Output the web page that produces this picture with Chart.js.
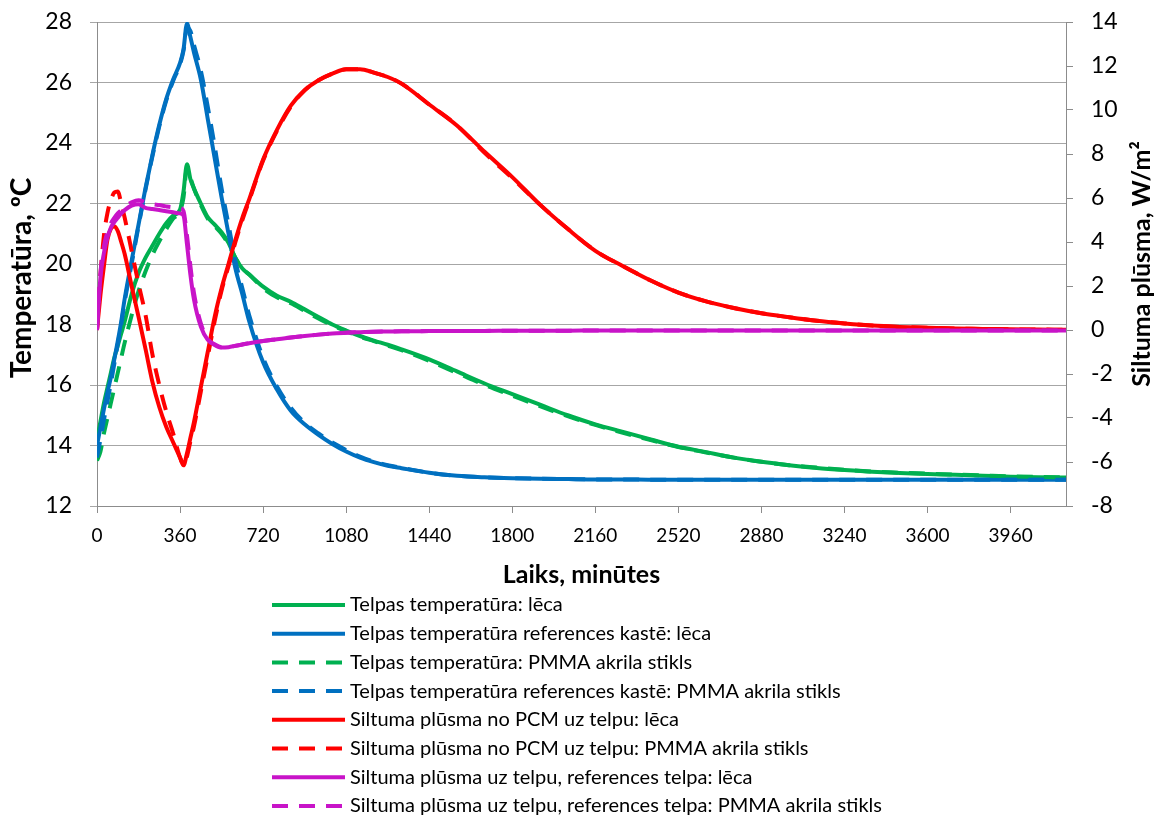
<!DOCTYPE html>
<html>
<head>
<meta charset="utf-8">
<title>Telpas temperatūra un siltuma plūsma</title>
<script src="https://cdn.jsdelivr.net/npm/chart.js@4.4.1/dist/chart.umd.min.js"></script>
<style>
  html, body { margin: 0; padding: 0; background: #fff; }
  #wrap { width: 1154px; height: 816px; position: relative; }
</style>
</head>
<body>
<div id="wrap"><canvas id="chart"></canvas></div>
<script>
// time, minutes
const minutes = [0, 15, 30, 45, 60, 75, 90, 105, 120, 150, 180, 210, 240, 270, 300, 330, 360,
  375, 390, 405, 420, 450, 480, 510, 540, 570, 600, 630, 660, 720, 780, 840, 900, 960, 1020,
  1080, 1140, 1200, 1260, 1320, 1440, 1560, 1680, 1800, 1920, 2040, 2160, 2280, 2400, 2520,
  2640, 2760, 2880, 3000, 3120, 3240, 3360, 3480, 3600, 3720, 3840, 3960, 4080, 4200];

// room temperature, degC (left axis)
const tempLeca = [14.2, 14.8, 15.4, 15.9, 16.4, 16.9, 17.3, 17.7, 18.1, 19.0, 19.7, 20.2, 20.6, 21.0,
  21.35, 21.6, 21.8, 22.4, 23.3, 22.8, 22.5, 22.0, 21.55, 21.3, 21.05, 20.7, 20.2, 19.85, 19.65,
  19.25, 18.95, 18.75, 18.5, 18.25, 18.0, 17.8, 17.62, 17.47, 17.33, 17.18, 16.85, 16.45, 16.05,
  15.7, 15.35, 15.0, 14.7, 14.45, 14.2, 13.96, 13.78, 13.6, 13.46, 13.35, 13.26, 13.19, 13.13,
  13.09, 13.06, 13.03, 13.0, 12.97, 12.95, 12.94];
const tempRefLeca = [14.0, 14.6, 15.2, 15.75, 16.25, 16.85, 17.45, 18.1, 18.85, 20.1, 21.3, 22.5, 23.6,
  24.6, 25.45, 26.1, 26.65, 27.1, 27.95, 27.5, 27.0, 26.1, 24.8, 23.5, 22.2, 21.0, 19.85, 19.0, 18.1,
  16.75, 15.85, 15.15, 14.7, 14.35, 14.05, 13.8, 13.6, 13.45, 13.33, 13.25, 13.1, 13.0, 12.95, 12.92,
  12.9, 12.89, 12.88, 12.88, 12.87, 12.87, 12.87, 12.87, 12.87, 12.87, 12.87, 12.87, 12.87, 12.87,
  12.87, 12.87, 12.87, 12.87, 12.87, 12.87];
const tempPmma = [13.5, 13.8, 14.4, 14.9, 15.4, 15.9, 16.4, 16.9, 17.4, 18.3, 19.1, 19.75, 20.3, 20.75,
  21.15, 21.5, 21.75, 22.2, 23.2, 22.85, 22.5, 21.95, 21.5, 21.25, 21.0, 20.65, 20.2, 19.85, 19.65,
  19.2, 18.9, 18.7, 18.45, 18.2, 17.97, 17.78, 17.6, 17.45, 17.3, 17.15, 16.8, 16.4, 16.0, 15.65,
  15.3, 14.97, 14.68, 14.42, 14.18, 13.95, 13.77, 13.6, 13.46, 13.35, 13.27, 13.2, 13.14, 13.1,
  13.07, 13.04, 13.01, 12.98, 12.96, 12.95];
const tempRefPmma = [13.6, 14.2, 14.85, 15.45, 16.05, 16.7, 17.35, 18.0, 18.75, 20.0, 21.25, 22.45,
  23.55, 24.55, 25.4, 26.05, 26.6, 27.05, 27.8, 27.7, 27.25, 26.4, 25.2, 23.9, 22.5, 21.3, 20.1, 19.2,
  18.3, 16.9, 15.95, 15.25, 14.75, 14.4, 14.1, 13.85, 13.63, 13.47, 13.35, 13.26, 13.1, 13.0, 12.95,
  12.92, 12.9, 12.89, 12.88, 12.88, 12.87, 12.87, 12.87, 12.87, 12.87, 12.87, 12.87, 12.87, 12.87,
  12.87, 12.87, 12.87, 12.87, 12.87, 12.87, 12.87];

// heat flow, W/m2 (right axis)
const flowLeca = [0, 1.6, 2.9, 4.1, 4.6, 4.72, 4.5, 4.0, 3.45, 2.0, 0.6, -0.85, -2.35, -3.5, -4.4, -5.1,
  -5.8, -6.15, -5.6, -4.9, -4.2, -2.6, -1.0, 0.6, 1.9, 3.0, 4.1, 5.1, 5.95, 7.75, 9.1, 10.2, 10.9,
  11.35, 11.65, 11.85, 11.85, 11.7, 11.5, 11.2, 10.25, 9.3, 8.1, 6.95, 5.7, 4.6, 3.6, 2.9, 2.25, 1.7,
  1.3, 1.0, 0.76, 0.58, 0.42, 0.3, 0.2, 0.14, 0.1, 0.07, 0.05, 0.03, 0.02, 0.01];
const flowPmma = [0, 2.5, 4.3, 5.3, 5.9, 6.25, 6.3, 5.75, 5.1, 3.6, 2.1, 0.7, -1.1, -2.5, -3.7, -4.7,
  -5.8, -6.1, -5.75, -5.05, -4.4, -2.8, -1.2, 0.4, 1.8, 2.9, 4.0, 5.0, 5.9, 7.7, 9.05, 10.15, 10.9,
  11.35, 11.65, 11.85, 11.85, 11.7, 11.5, 11.2, 10.25, 9.3, 8.05, 6.9, 5.7, 4.6, 3.6, 2.9, 2.25, 1.7,
  1.3, 1.0, 0.76, 0.58, 0.42, 0.3, 0.2, 0.14, 0.1, 0.07, 0.05, 0.03, 0.02, 0.01];
const flowRefLeca = [0, 2.4, 3.5, 4.2, 4.65, 4.9, 5.1, 5.3, 5.45, 5.65, 5.72, 5.55, 5.5, 5.45, 5.4, 5.35,
  5.3, 5.2, 3.9, 2.5, 1.4, 0.15, -0.45, -0.68, -0.8, -0.78, -0.72, -0.66, -0.6, -0.5, -0.42, -0.34,
  -0.27, -0.21, -0.16, -0.12, -0.1, -0.08, -0.07, -0.06, -0.05, -0.04, -0.04, -0.03, -0.03, -0.03,
  -0.02, -0.02, -0.02, -0.02, -0.02, -0.02, -0.02, -0.02, -0.02, -0.02, -0.02, -0.02, -0.02, -0.02,
  -0.02, -0.02, -0.02, -0.02];
const flowRefPmma = [0, 2.6, 3.8, 4.45, 4.85, 5.1, 5.3, 5.45, 5.6, 5.8, 5.9, 5.8, 5.72, 5.68, 5.62, 5.58,
  5.55, 5.4, 4.3, 2.9, 1.7, 0.3, -0.4, -0.65, -0.78, -0.77, -0.72, -0.66, -0.6, -0.5, -0.42, -0.34,
  -0.27, -0.21, -0.16, -0.12, -0.1, -0.08, -0.07, -0.06, -0.05, -0.04, -0.04, -0.03, -0.03, -0.03,
  -0.02, -0.02, -0.02, -0.02, -0.02, -0.02, -0.02, -0.02, -0.02, -0.02, -0.02, -0.02, -0.02, -0.02,
  -0.02, -0.02, -0.02, -0.02];

const xTicks = [0, 360, 720, 1080, 1440, 1800, 2160, 2520, 2880, 3240, 3600, 3960];

const green = '#00B050', blue = '#0070C0', red = '#FF0000', magenta = '#C814C8';
const dash = [16, 11];
const font = 'Lato';

function pts(values) {
  return minutes.map((t, i) => ({ x: t, y: values[i] }));
}

function series(label, values, color, dashed, axis) {
  return {
    label: label,
    data: pts(values),
    yAxisID: axis,
    borderColor: color,
    backgroundColor: color,
    borderWidth: 4,
    borderDash: dashed ? dash : [],
    pointRadius: 0,
    cubicInterpolationMode: 'monotone',
    fill: false
  };
}

let datasets = [
  series('Telpas temperatūra: lēca', tempLeca, green, false, 'y'),
  series('Telpas temperatūra references kastē: lēca', tempRefLeca, blue, false, 'y'),
  series('Telpas temperatūra: PMMA akrila stikls', tempPmma, green, true, 'y'),
  series('Telpas temperatūra references kastē: PMMA akrila stikls', tempRefPmma, blue, true, 'y'),
  series('Siltuma plūsma no PCM uz telpu: lēca', flowLeca, red, false, 'y2'),
  series('Siltuma plūsma no PCM uz telpu: PMMA akrila stikls', flowPmma, red, true, 'y2'),
  series('Siltuma plūsma uz telpu, references telpa: lēca', flowRefLeca, magenta, false, 'y2'),
  series('Siltuma plūsma uz telpu, references telpa: PMMA akrila stikls', flowRefPmma, magenta, true, 'y2')
];
// later series on top, like the spreadsheet
datasets.forEach((d, i) => { d.order = datasets.length - i; });

// legend rows under the chart + vertical axis titles (reading bottom to top)
const extras = {
  id: 'extras',
  afterDraw(chart) {
    let ctx = chart.ctx;
    let area = chart.chartArea;
    ctx.save();
    ctx.font = '20px ' + font;
    ctx.textBaseline = 'middle';
    ctx.textAlign = 'left';
    ctx.fillStyle = '#000';
    chart.data.datasets.forEach((ds, i) => {
      let y = area.bottom + 99 + i * 28.7;
      ctx.strokeStyle = ds.borderColor;
      ctx.lineWidth = 4;
      ctx.setLineDash(ds.borderDash);
      ctx.beginPath();
      ctx.moveTo(272, y);
      ctx.lineTo(345, y);
      ctx.stroke();
      ctx.fillText(ds.label, 350, y);
    });
    ctx.setLineDash([]);
    ctx.textAlign = 'center';

    ctx.save();
    ctx.font = 'bold 28px ' + font;
    ctx.translate(22, 278);
    ctx.rotate(-Math.PI / 2);
    ctx.fillText('Temperatūra, ºC', 0, 0);
    ctx.restore();

    ctx.save();
    ctx.font = 'bold 25px ' + font;
    ctx.translate(1142, 264);
    ctx.rotate(-Math.PI / 2);
    ctx.fillText('Siltuma plūsma, W/m²', 0, 0);
    ctx.restore();

    ctx.restore();
  }
};

const gridGray = '#A6A6A6';
const axisGray = '#8C8C8C';

new Chart(document.getElementById('chart'), {
  type: 'line',
  data: { datasets: datasets },
  plugins: [extras],
  options: {
    responsive: true,
    maintainAspectRatio: false,
    animation: false,
    layout: {
      padding: { top: 22, left: 0, right: 0, bottom: 226 }
    },
    plugins: {
      legend: { display: false },
      tooltip: { enabled: false }
    },
    scales: {
      x: {
        type: 'linear',
        min: 0,
        max: 4200,
        afterBuildTicks: (scale) => { scale.ticks = xTicks.map(v => ({ value: v })); },
        afterFit: (scale) => { scale.height = 84; },
        ticks: {
          font: { family: font, size: 19 },
          color: '#000',
          padding: 11,
          maxRotation: 0,
          callback: (v) => String(v)
        },
        grid: {
          drawOnChartArea: false,
          drawTicks: true,
          tickLength: 7,
          color: axisGray
        },
        border: { display: true, color: axisGray, width: 1 },
        title: {
          display: true,
          text: 'Laiks, minūtes',
          font: { family: font, size: 25, weight: 'bold' },
          color: '#000',
          padding: { top: 0, bottom: 0 }
        }
      },
      y: {
        position: 'left',
        min: 12,
        max: 28,
        afterFit: (scale) => { scale.width = 97; scale.paddingTop = 0; },
        ticks: {
          stepSize: 2,
          font: { family: font, size: 23 },
          color: '#000',
          padding: 18
        },
        grid: {
          color: gridGray,
          tickLength: 7
        },
        border: { display: true, color: axisGray, width: 1 }
      },
      y2: {
        position: 'right',
        min: -8,
        max: 14,
        afterFit: (scale) => { scale.width = 88; scale.paddingTop = 0; },
        ticks: {
          stepSize: 2,
          font: { family: font, size: 23 },
          color: '#000',
          padding: 18
        },
        grid: {
          drawOnChartArea: false,
          color: axisGray,
          tickLength: 7
        },
        border: { display: true, color: axisGray, width: 1 }
      }
    }
  }
});
</script>
</body>
</html>
